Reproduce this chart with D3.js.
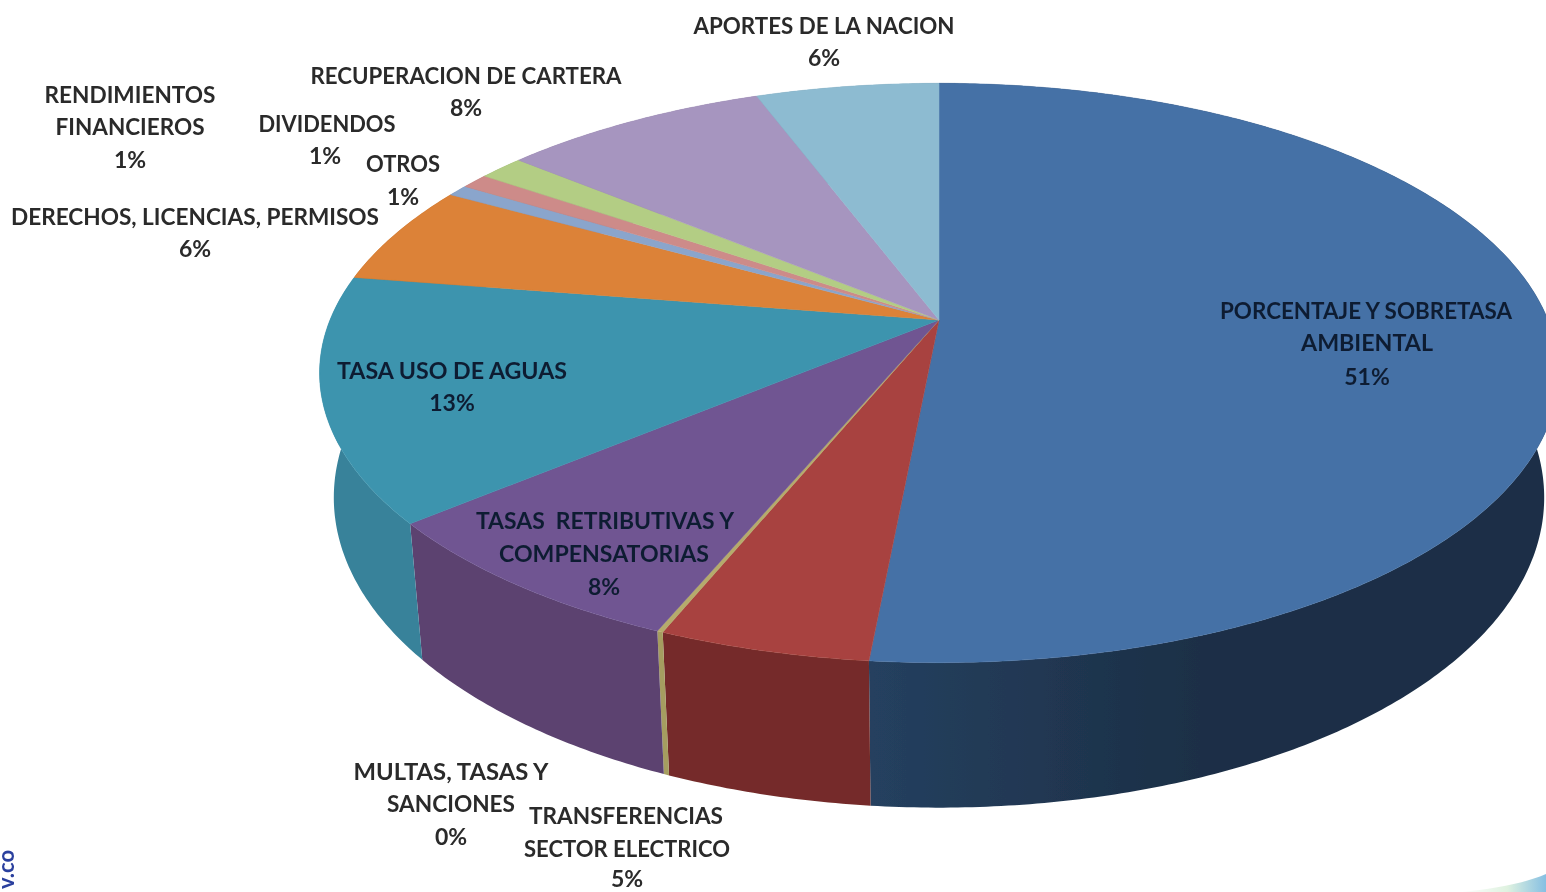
<!DOCTYPE html>
<html>
<head>
<meta charset="utf-8">
<script src="https://cdn.jsdelivr.net/npm/d3@7"></script>
<style>
  html, body { margin: 0; padding: 0; background: #fff; overflow: hidden; }
  svg { display: block; }
  text { font-family: Lato, "Open Sans", sans-serif; font-weight: 700; }
</style>
</head>
<body>
<svg></svg>
<script>
// slices clockwise from 12 o'clock, shares
const categories = [
  "PORCENTAJE Y SOBRETASA AMBIENTAL",
  "TRANSFERENCIAS SECTOR ELECTRICO",
  "MULTAS, TASAS Y SANCIONES",
  "TASAS  RETRIBUTIVAS Y COMPENSATORIAS",
  "TASA USO DE AGUAS",
  "DERECHOS, LICENCIAS, PERMISOS",
  "RENDIMIENTOS FINANCIEROS",
  "DIVIDENDOS",
  "OTROS",
  "RECUPERACION DE CARTERA",
  "APORTES DE LA NACION"
];
const shares = [51.5, 4.65, 0.13, 7.62, 13.6, 5.6, 0.65, 0.85, 1.4, 8.3, 5.7];
const percentLabels = ["51%", "5%", "0%", "8%", "13%", "6%", "1%", "1%", "1%", "8%", "6%"];

const topColors = ["#4571a6", "#a8423f", "#b5ab6c", "#6f5592", "#3c94ae", "#dc8237", "#8aa5cc", "#cd8b89", "#b3cd84", "#a695bf", "#8dbbd1"];
const sideColors = ["#1c2f46", "#742c29", "#a59d60", "#5b4270", "#37829a", "#a8622a", "#6a80a0", "#9a6867", "#88a064", "#7d7091", "#6a8ea0"];

// label lines [text, centre x, baseline y, width]; the last line of each is its percent
const labelLayout = [
  [["PORCENTAJE Y SOBRETASA", 1366, 319, 292], ["AMBIENTAL", 1367, 351, 132], [1367, 385]],
  [["TRANSFERENCIAS", 626, 824, 194], ["SECTOR ELECTRICO", 627, 857, 206], [627, 887]],
  [["MULTAS, TASAS Y", 451, 780, 195], ["SANCIONES", 451, 812, 128], [451, 845]],
  [["TASAS  RETRIBUTIVAS Y", 605, 529, 258], ["COMPENSATORIAS", 604, 562, 210], [604, 595]],
  [["TASA USO DE AGUAS", 452, 379, 230], [452, 411]],
  [["DERECHOS, LICENCIAS, PERMISOS", 195, 225, 368], [195, 257]],
  [["RENDIMIENTOS", 130, 103, 171], ["FINANCIEROS", 130, 135, 149], [130, 168]],
  [["DIVIDENDOS", 327, 132, 137], [325, 164]],
  [["OTROS", 403, 172, 74], [403, 205]],
  [["RECUPERACION DE CARTERA", 466, 84, 311], [466, 116]],
  [["APORTES DE LA NACION", 824, 34, 261], [824, 66]]
];
const insideSlices = [0, 3, 4];

const w = 1546;
const h = 892;
const tilt = 0.1828;  // perspective of the pie plane

const xScale = d3.scaleLinear().domain([-1, 1]).range([330, 1548]);
const yScale = d3.scaleLinear().domain([-1, 1]).range([40, 600]);

const svg = d3.select("svg").attr("width", w).attr("height", h);

const defs = svg.append("defs");
const soft = defs.append("filter").attr("id", "soft").attr("x", "-2%").attr("y", "-2%").attr("width", "104%").attr("height", "104%");
soft.append("feGaussianBlur").attr("stdDeviation", 0.7);
const softText = defs.append("filter").attr("id", "softText").attr("x", "-5%").attr("y", "-20%").attr("width", "110%").attr("height", "140%");
softText.append("feGaussianBlur").attr("stdDeviation", 0.75);

const wallGrad = defs.append("linearGradient").attr("id", "wallBlue")
  .attr("gradientUnits", "userSpaceOnUse")
  .attr("x1", 870).attr("y1", 0).attr("x2", 1200).attr("y2", 0);
wallGrad.append("stop").attr("offset", 0).attr("stop-color", "#25405f");
wallGrad.append("stop").attr("offset", 1).attr("stop-color", "#1c2f46");

const swooshGrad = defs.append("linearGradient").attr("id", "swoosh")
  .attr("x1", 0).attr("y1", 0).attr("x2", 1).attr("y2", 0);
swooshGrad.append("stop").attr("offset", 0).attr("stop-color", "#ffffff");
swooshGrad.append("stop").attr("offset", 0.55).attr("stop-color", "#dff2e0");
swooshGrad.append("stop").attr("offset", 1).attr("stop-color", "#86bfe2");

// angle on the pie -> point on the top face
const topPoint = (a, r = 1) => {
  const u = r * Math.sin(a);
  const v = -r * Math.cos(a);
  const s = 1 / (1 - tilt * v);
  return [xScale(u * s), yScale(v * s)];
};

// same angle on the lower rim
const rimPoint = (a) => {
  const p = topPoint(a);
  const v = -Math.cos(a);
  return [xScale(0) + (p[0] - xScale(0)) * 0.977, p[1] + 120 + 25 * v];
};

const arcAngles = (d) => {
  const n = Math.max(2, Math.ceil((d.endAngle - d.startAngle) / 0.01));
  return d3.range(n + 1).map((i) => d.startAngle + (d.endAngle - d.startAngle) * i / n);
};

const line = d3.line().curve(d3.curveLinear);
const arcs = d3.pie().sort(null).value((d) => d)(shares);

const pieGroup = svg.append("g").attr("filter", "url(#soft)");

pieGroup.selectAll("path.wall")
  .data(arcs)
  .enter()
  .append("path")
  .attr("class", "wall")
  .attr("d", (d) => {
    const as = arcAngles(d);
    return line(as.map((a) => topPoint(a)).concat(as.slice().reverse().map(rimPoint))) + "Z";
  })
  .attr("fill", (d, i) => i === 0 ? "url(#wallBlue)" : sideColors[i]);

pieGroup.selectAll("path.top")
  .data(arcs)
  .enter()
  .append("path")
  .attr("class", "top")
  .attr("d", (d) => {
    const pts = arcAngles(d).map((a) => topPoint(a));
    return line([topPoint(0, 0)].concat(pts)) + "Z";
  })
  .attr("fill", (d, i) => topColors[i])
  .attr("stroke", (d, i) => topColors[i])
  .attr("stroke-width", 0.5);

const labels = svg.append("g").attr("filter", "url(#softText)");

categories.forEach((name, i) => {
  const rows = labelLayout[i].map((r) => r.length === 2 ? [percentLabels[i], r[0], r[1]] : r);
  labels.append("g").attr("class", "label")
    .selectAll("text")
    .data(rows)
    .enter()
    .append("text")
    .attr("x", (d) => d[1])
    .attr("y", (d) => d[2])
    .attr("text-anchor", "middle")
    .attr("font-size", 23)
    .style("white-space", "pre")
    .attr("fill", insideSlices.includes(i) ? "#101d33" : "#2a2a2a")
    .attr("textLength", (d) => d[3] ? d[3] : null)
    .attr("lengthAdjust", "spacingAndGlyphs")
    .text((d) => d[0]);
});

// leftovers of the slide behind the chart
svg.append("path")
  .attr("d", "M1460,892 C1495,889 1522,884 1546,874 L1546,892 Z")
  .attr("fill", "url(#swoosh)")
  .attr("filter", "url(#soft)");

svg.append("text")
  .attr("transform", "translate(14,889) rotate(-90)")
  .attr("font-size", 22)
  .attr("fill", "#2b3f9e")
  .attr("filter", "url(#softText)")
  .text("v.co");
</script>
</body>
</html>
